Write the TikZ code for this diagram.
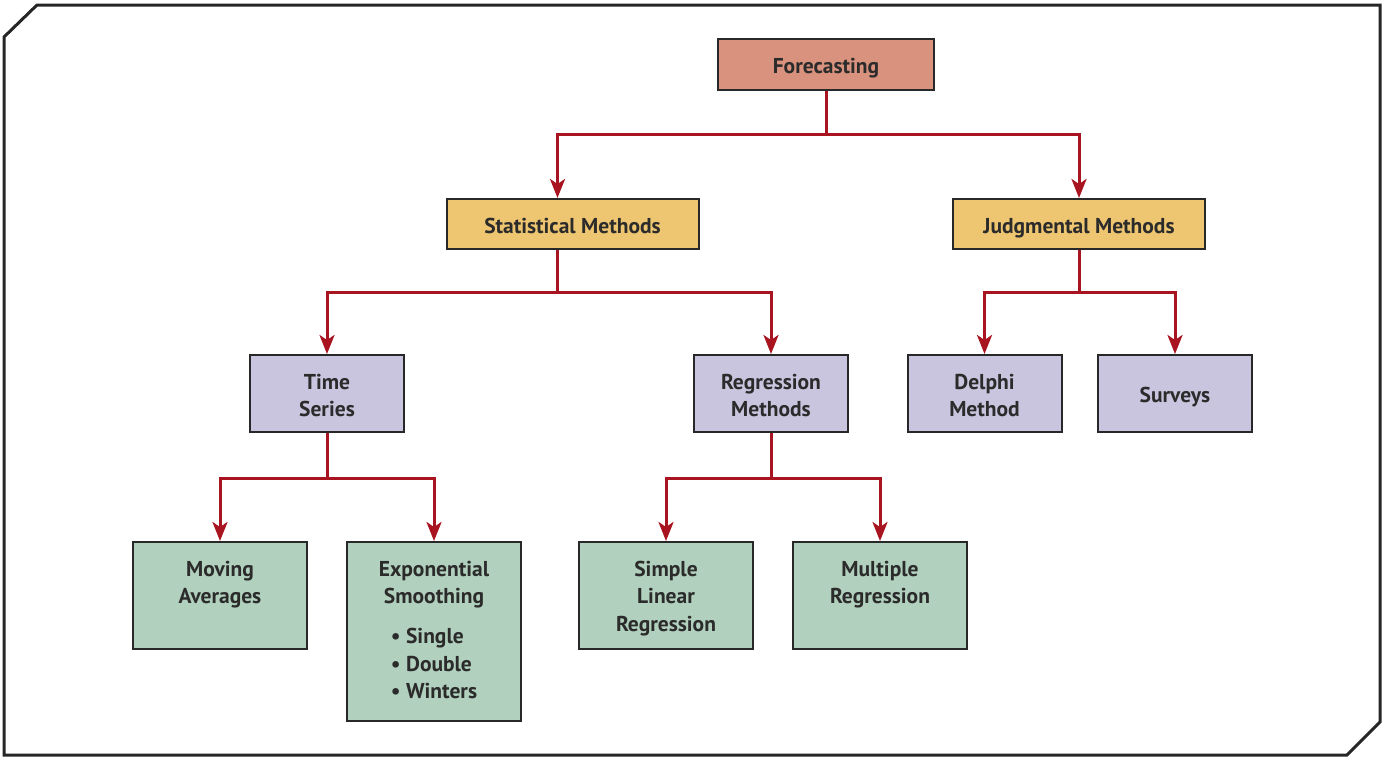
\documentclass[tikz,border=0pt]{standalone}
\usepackage{fontspec}
\setmainfont{PT Sans}
\usetikzlibrary{arrows.meta}
\definecolor{cF}{RGB}{217,146,126}
\definecolor{cY}{RGB}{238,197,112}
\definecolor{cL}{RGB}{201,197,222}
\definecolor{cG}{RGB}{177,208,189}
\definecolor{cR}{RGB}{168,20,32}
\definecolor{cT}{RGB}{43,43,43}
\definecolor{cB}{RGB}{40,40,40}
\newcommand\boxtxt[4][34pt]{\parbox[c][#3][t]{#2}{\centering\rule{0pt}{#1}#4}}
\begin{document}
\begin{tikzpicture}[x=1pt,y=-1pt,
  box/.style={draw=cB,line width=2pt,inner sep=0pt,text=cT,
    font=\fontsize{21.5}{27.5}\selectfont\bfseries},
  conn/.style={draw=cR,line width=3pt,-{Stealth[length=19pt,width=15pt,inset=5pt]}},
  frame/.style={draw=black!85,line width=3pt,line join=miter}]
\useasboundingbox (0,0) rectangle (1388,761);
\draw[frame] (37,5) -- (1380,5) -- (1380,722) -- (1347,755) -- (4,755) -- (4,37) -- cycle;
% level 0
\node[box,fill=cF] (f) at (826,64.5) {\boxtxt{216pt}{51pt}{Forecasting}};
% level 1
\node[box,fill=cY] (sm) at (572.5,224) {\boxtxt{252pt}{50pt}{Statistical Methods}};
\node[box,fill=cY] (jm) at (1079,224) {\boxtxt{252pt}{50pt}{Judgmental Methods}};
% level 2
\node[box,fill=cL] (ts) at (327,393.5) {\boxtxt{154pt}{77pt}{Time\\Series}};
\node[box,fill=cL] (rm) at (771,393.5) {\boxtxt{154pt}{77pt}{Regression\\Methods}};
\node[box,fill=cL] (dm) at (984.5,393.5) {\boxtxt{154pt}{77pt}{Delphi\\Method}};
\node[box,fill=cL] (sv) at (1175,393.5) {\boxtxt[47pt]{154pt}{77pt}{Surveys}};
% level 3
\node[box,fill=cG] (ma) at (220,595.5) {\boxtxt{174pt}{107pt}{Moving\\Averages}};
\node[box,fill=cG] (es) at (434,631.5) {\boxtxt{174pt}{179pt}{Exponential\\Smoothing\\[12.5pt]
  \begin{tabular}[t]{@{}l@{}}\textbullet\ Single\\\textbullet\ Double\\\textbullet\ Winters\end{tabular}}};
\node[box,fill=cG] (slr) at (666,595.5) {\boxtxt{174pt}{107pt}{Simple\\Linear\\Regression}};
\node[box,fill=cG] (mr) at (880,595.5) {\boxtxt{174pt}{107pt}{Multiple\\Regression}};
% connectors
\draw[conn] (f.south) -- ++(0,43) -| ([xshift=-15pt]sm.north);
\draw[conn] (f.south) -- ++(0,43) -| (jm.north);
\draw[conn] ([xshift=-15pt]sm.south) -- ++(0,42) -| (ts.north);
\draw[conn] ([xshift=-15pt]sm.south) -- ++(0,42) -| (rm.north);
\draw[conn] (jm.south) -- ++(0,42) -| (dm.north);
\draw[conn] (jm.south) -- ++(0,42) -| (sv.north);
\draw[conn] (ts.south) -- ++(0,45) -| (ma.north);
\draw[conn] (ts.south) -- ++(0,45) -| (es.north);
\draw[conn] (rm.south) -- ++(0,45) -| (slr.north);
\draw[conn] (rm.south) -- ++(0,45) -| (mr.north);
\end{tikzpicture}
\end{document}
